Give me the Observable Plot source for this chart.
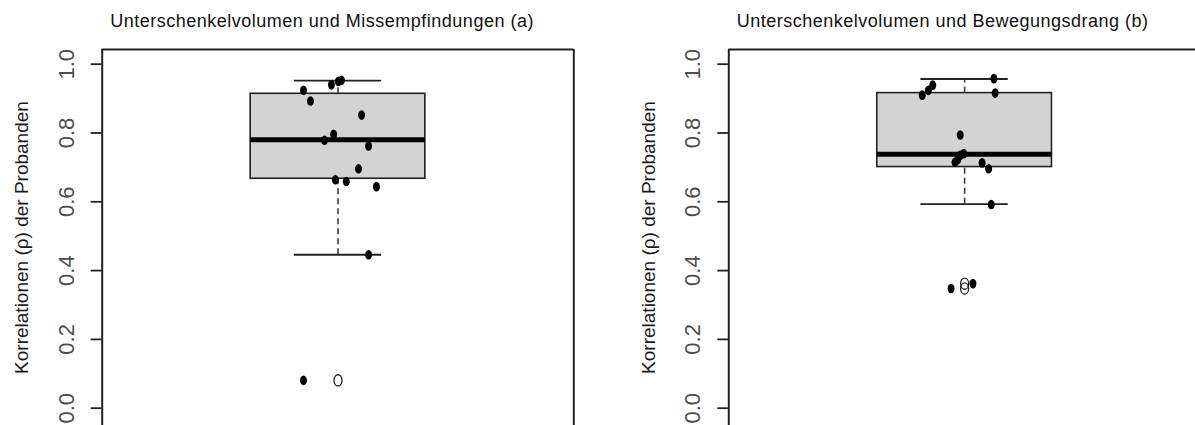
<!DOCTYPE html>
<html><head><meta charset="utf-8">
<script src="https://cdn.jsdelivr.net/npm/d3@7"></script>
<script src="https://cdn.jsdelivr.net/npm/@observablehq/plot@0.6"></script>
<style>
body{margin:0;background:#fff;}
#wrap{display:flex;width:1195px;height:425px;overflow:hidden;background:#fff;}
#wrap svg{display:block;flex:none;}
</style></head><body><div id="wrap"></div>
<script>
// ---- text ----
const titleA = "Unterschenkelvolumen und Missempfindungen (a)";
const titleB = "Unterschenkelvolumen und Bewegungsdrang (b)";
const yLabel = "Korrelationen (ρ) der Probanden";
const yTicks = [0, 0.2, 0.4, 0.6, 0.8, 1.0];
const yTickLabels = ["0.0", "0.2", "0.4", "0.6", "0.8", "1.0"];

// ---- panel (a): individual correlations + horizontal jitter offsets ----
const valuesA = [0.924, 0.893, 0.940, 0.950, 0.953, 0.852, 0.796, 0.779, 0.762, 0.696, 0.664, 0.659, 0.644, 0.446, 0.081];
const jitterA = [-0.079, -0.063, -0.015, 0.001, 0.008, 0.054, -0.010, -0.031, 0.070, 0.047, -0.006, 0.019, 0.088, 0.070, -0.079];
// boxplot statistics: lower whisker, Q1, median, Q3, upper whisker
const statsA = [0.446, 0.667, 0.780, 0.914, 0.952];
const outliersA = [0.081];

// ---- panel (b) ----
const valuesB = [0.910, 0.924, 0.939, 0.958, 0.916, 0.794, 0.715, 0.722, 0.735, 0.740, 0.713, 0.696, 0.592, 0.348, 0.362];
const jitterB = [-0.097, -0.083, -0.073, 0.067, 0.070, -0.010, -0.022, -0.016, -0.010, -0.002, 0.040, 0.055, 0.061, -0.031, 0.019];
const statsB = [0.593, 0.701, 0.738, 0.916, 0.957];
const outliersB = [0.348, 0.362];

function ellipse(rx, ry) {
  return {draw(c) {
    const k = 0.5523;
    c.moveTo(rx, 0);
    c.bezierCurveTo(rx, ry * k, rx * k, ry, 0, ry);
    c.bezierCurveTo(-rx * k, ry, -rx, ry * k, -rx, 0);
    c.bezierCurveTo(-rx, -ry * k, -rx * k, -ry, 0, -ry);
    c.bezierCurveTo(rx * k, -ry, rx, -ry * k, rx, 0);
    c.closePath();
  }};
}

const FONT = "'Liberation Sans', Arial, Helvetica, sans-serif";
const YDOM = [-0.0503, 1.0427];

function panel({width, marginLeft, marginRight, xDomain, title, values, jitter, stats, outliers, rightEdge}) {
  const [lo, q1, med, q3, hi] = stats;
  const pts = values.map((v, i) => ({x: 1 + jitter[i], y: v}));
  const frameX = rightEdge ? [xDomain[0], xDomain[1]] : [xDomain[0]];
  const svg = Plot.plot({
    width, height: 425, marginLeft, marginRight, marginTop: 49, marginBottom: 0,
    x: {domain: xDomain, axis: null},
    y: {domain: YDOM},
    style: {fontFamily: FONT, background: "white", overflow: "visible"},
    marks: [
      // box
      Plot.rect([stats], {x1: () => 0.8, x2: () => 1.2, y1: () => q1, y2: () => q3, fill: "#d3d3d3", stroke: "#222", strokeWidth: 1.6}),
      // whiskers
      Plot.ruleX([[q3, hi], [lo, q1]], {x: () => 1, y1: d => d[0], y2: d => d[1], stroke: "#333", strokeWidth: 1.5, strokeDasharray: "6,4"}),
      // staples
      Plot.ruleY([lo, hi], {x1: () => 0.9, x2: () => 1.1, stroke: "#222", strokeWidth: 1.8}),
      // median
      Plot.ruleY([med], {x1: () => 0.8, x2: () => 1.2, stroke: "#000", strokeWidth: 5}),
      // outliers (open)
      Plot.dot(outliers, {x: () => 1, y: d => d, symbol: ellipse(4, 5.6), fill: "none", stroke: "#222", strokeWidth: 1.3}),
      // jittered points
      Plot.dot(pts, {x: "x", y: "y", symbol: ellipse(3.5, 4.8), fill: "#000", stroke: "none"}),
      // frame
      Plot.ruleX(frameX, {stroke: "#222", strokeWidth: 2}),
      Plot.ruleY([YDOM[1]], {stroke: "#222", strokeWidth: 2}),
      // y ticks
      Plot.axisY({ticks: yTicks, tickSize: 11, tickFormat: () => "", stroke: "#222", strokeWidth: 1.8, label: null}),
      Plot.text(yTicks, {y: d => d, text: (d, i) => yTickLabels[i], frameAnchor: "left", dx: -35.5, rotate: -90,
        textAnchor: "middle", lineAnchor: "middle", fontSize: 22, fill: "#4d4d4d"}),
      // y label
      Plot.text([yLabel], {frameAnchor: "left", dx: -80, rotate: -90, textAnchor: "middle", lineAnchor: "middle", fontSize: 19, fill: "#1a1a1a"}),
      // title
      Plot.text([title], {frameAnchor: "top-left", dx: 8, dy: -28, textAnchor: "start", lineAnchor: "middle", fontSize: 18, fill: "#111"})
    ]
  });
  svg.querySelectorAll("text").forEach(t => { if (t.textContent === title) t.style.letterSpacing = "0.5px"; });
  return svg;
}

const wrap = document.getElementById("wrap");
wrap.appendChild(panel({width: 600, marginLeft: 101.7, marginRight: 26.7, xDomain: [0.46, 1.54], title: titleA,
  values: valuesA, jitter: jitterA, stats: statsA, outliers: outliersA, rightEdge: true}));
wrap.appendChild(panel({width: 595, marginLeft: 128.3, marginRight: 0, xDomain: [0.46, 1.5287], title: titleB,
  values: valuesB, jitter: jitterB, stats: statsB, outliers: outliersB, rightEdge: false}));
</script></body></html>
